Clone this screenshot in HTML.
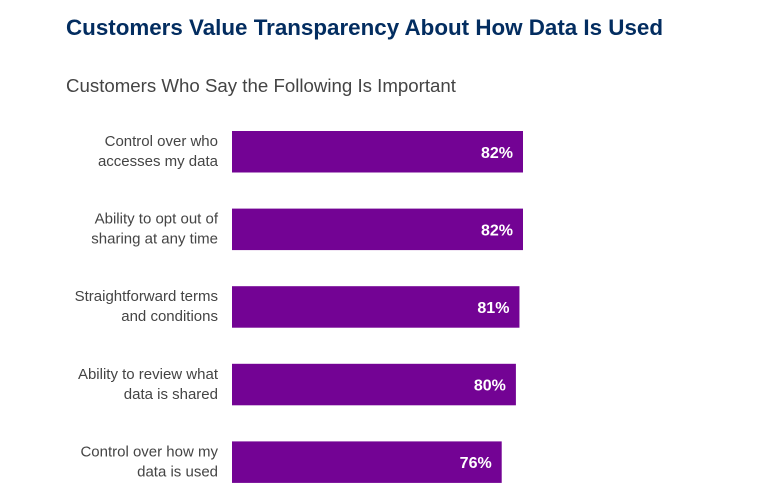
<!DOCTYPE html>
<html><head><meta charset="utf-8"><style>
html,body{margin:0;padding:0;background:#fff;}
svg{display:block;font-family:"Liberation Sans",sans-serif;}
</style></head><body>
<svg width="760" height="486" viewBox="0 0 760 486">
<text x="66" y="35" font-size="22" font-weight="bold" fill="#032d60" textLength="597" lengthAdjust="spacingAndGlyphs">Customers Value Transparency About How Data Is Used</text>
<text x="66" y="92" font-size="18" fill="#444" textLength="390" lengthAdjust="spacingAndGlyphs">Customers Who Say the Following Is Important</text>
<g id="bars"></g>
</svg>
<script>
const labelLine1 = ["Control over who","Ability to opt out of","Straightforward terms","Ability to review what","Control over how my"];
const labelLine2 = ["accesses my data","sharing at any time","and conditions","data is shared","data is used"];
const values = [82,82,81,80,76];
const NS="http://www.w3.org/2000/svg";
const x0=232, pxPer=291/82, top0=131, step=77.6, bh=41.5;
const xs=v=>x0+v*pxPer;
const yb=i=>top0+i*step;
const g=document.getElementById('bars');
function mk(tag,attrs){const e=document.createElementNS(NS,tag);for(const k in attrs)e.setAttribute(k,attrs[k]);g.appendChild(e);return e;}
values.forEach((v,i)=>{
  const r=mk('rect',{x:x0,y:yb(i),width:xs(v)-x0,height:bh,fill:'#730394'});
  
  
  const t=mk('text',{x:xs(v)-10,y:yb(i)+bh/2+6,'text-anchor':'end','font-size':'16','font-weight':'bold',fill:'#fff'});
  t.textContent=v+'%';
  
  
  const l1=mk('text',{x:218,y:yb(i)+15,'text-anchor':'end','font-size':'15',fill:'#444'});
  l1.textContent=labelLine1[i];
  
  
  const l2=mk('text',{x:218,y:yb(i)+35,'text-anchor':'end','font-size':'15',fill:'#444'});
  l2.textContent=labelLine2[i];
  
  
});
</script>
</body></html>
